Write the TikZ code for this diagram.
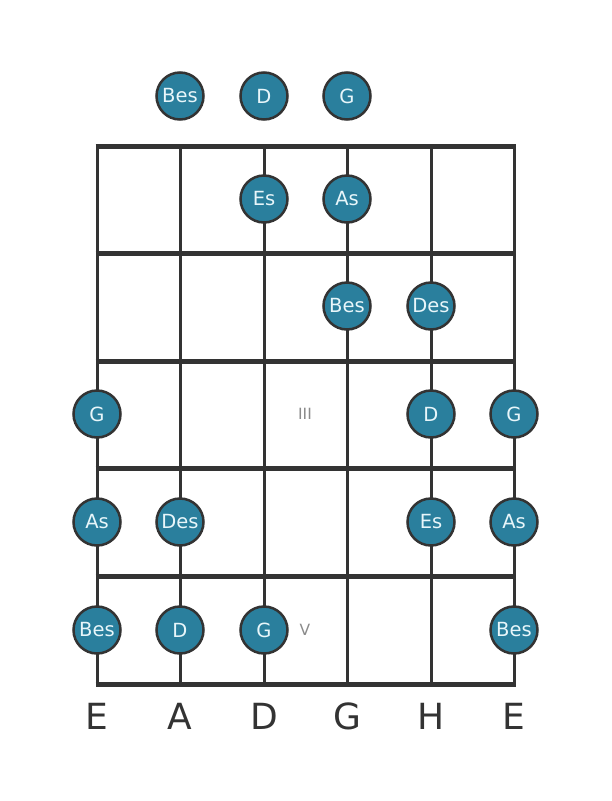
\documentclass[tikz,border=0pt]{standalone}
\usepackage{fontspec}
\setmainfont{DejaVu Sans}
\definecolor{notebl}{HTML}{2A7F9D}
\definecolor{notetx}{HTML}{E8F6FA}
\definecolor{inkgray}{HTML}{333333}
\definecolor{markgray}{HTML}{8A8A8A}
\tikzset{x=1pt,y=-1pt,
  note/.style={circle, draw=inkgray, fill=notebl, line width=2.5pt, minimum size=47pt,
    inner sep=0pt, text=notetx, font=\fontsize{19.5}{19.5}\selectfont},
  stringline/.style={draw=inkgray, line width=3pt},
  fretline/.style={draw=inkgray, line width=5pt},
  tuning/.style={text=inkgray, font=\fontsize{36}{36}\selectfont},
  fretmark/.style={text=markgray, font=\fontsize{15.5}{15.5}\selectfont}}

\begin{document}
\begin{tikzpicture}
        \useasboundingbox (0,0) rectangle (611,801);
        % strings
        \foreach \s/\x in {1/97,2/180,3/264,4/347,5/431,6/514} {
            \coordinate (top\s) at (\x,146);
            \coordinate (bot\s) at (\x,684);
            \draw[stringline] (top\s) -- (bot\s);
        }
        % frets
        \foreach \f/\y in {0/146,1/253.5,2/361,3/468.5,4/576,5/684} {
            \coordinate (fl\f) at (95.5,\y);
            \coordinate (fr\f) at (515.5,\y);
            \draw[fretline] (fl\f) -- (fr\f);
        }
        % fret markers
        \node[fretmark] (m3) at (305,414) {III};
        \node[fretmark] (m5) at (305,630) {V};
        % open strings
        \node[note] (a0) at (180,96) {Bes};
        \node[note] (d0) at (264,96) {D};
        \node[note] (g0) at (347,96) {G};
        % fret 1
        \node[note] (d1) at (264,199) {Es};
        \node[note] (g1) at (347,199) {As};
        % fret 2
        \node[note] (g2) at (347,306) {Bes};
        \node[note] (h2) at (431,306) {Des};
        % fret 3
        \node[note] (e3) at (97,414) {G};
        \node[note] (h3) at (431,414) {D};
        \node[note] (ee3) at (514,414) {G};
        % fret 4
        \node[note] (e4) at (97,522) {As};
        \node[note] (a4) at (180,522) {Des};
        \node[note] (h4) at (431,522) {Es};
        \node[note] (ee4) at (514,522) {As};
        % fret 5
        \node[note] (e5) at (97,630) {Bes};
        \node[note] (a5) at (180,630) {D};
        \node[note] (d5) at (264,630) {G};
        \node[note] (ee5) at (514,630) {Bes};
        % tuning
        \node[tuning] (t1) at (97,716) {E};
        \node[tuning] (t2) at (180,716) {A};
        \node[tuning] (t3) at (264,716) {D};
        \node[tuning] (t4) at (347,716) {G};
        \node[tuning] (t5) at (431,716) {H};
        \node[tuning] (t6) at (514,716) {E};
    \end{tikzpicture}
\end{document}
